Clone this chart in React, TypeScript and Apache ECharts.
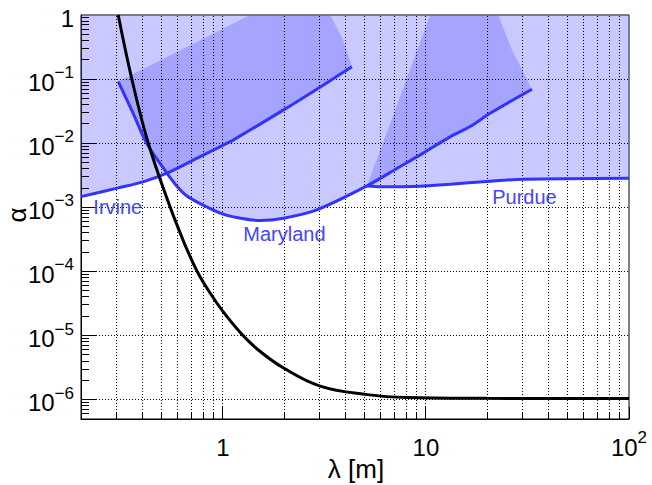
import React, { useEffect, useRef } from 'react';
import * as echarts from 'echarts';

const FONT = '"Liberation Sans", Arial, Helvetica, sans-serif';
const X_MIN = 0.2, X_MAX = 100, Y_MIN = 5e-7, Y_MAX = 1;

// tick label exponents and texts
const xLabelExps = [0, 1, 2];
const xLabelTexts = ['{b|1}', '{b|10}', '{b|10}{s|2}'];
const yLabelExps = [0, -1, -2, -3, -4, -5, -6];
const yLabelTexts = ['{b|1}', '{b|10}{s|−1}', '{b|10}{s|−2}', '{b|10}{s|−3}', '{b|10}{s|−4}', '{b|10}{s|−5}', '{b|10}{s|−6}'];

// black curve (sensitivity)
const blackX = [0.305, 0.356, 0.429, 0.55, 0.61, 0.652, 0.747, 0.86, 1.0, 1.217, 1.5, 1.98, 3.01, 5.14, 8.09, 20, 100];
const blackY = [1, 0.1, 0.01, 1e-3, 4.3e-4, 2.56e-4, 1e-4, 4.74e-5, 2.38e-5, 1.12e-5, 5.9e-6, 3.15e-6, 1.63e-6, 1.2e-6, 1.08e-6, 1.05e-6, 1.04e-6];

// Irvine
const irvineX = [0.2, 0.305, 0.4, 0.53, 0.773, 0.97, 1.128, 1.99, 3.13, 4.32];
const irvineY = [1.47e-3, 2.01e-3, 2.47e-3, 3.41e-3, 6.19e-3, 8.87e-3, 1.13e-2, 3.31e-2, 8.11e-2, 0.156];
const irvineCapX = [3.91, 3.38, 0.2];
const irvineCapY = [0.408, 1, 1];

// Maryland
const marylandX = [0.305, 0.36, 0.422, 0.53, 0.589, 0.665, 0.773, 0.97, 1.128, 1.527, 1.99, 2.9, 5.12, 7.47, 9.37, 13.2, 16.5, 20.7, 33.3];
const marylandY = [0.0914, 0.03, 0.0099, 3.41e-3, 2.2e-3, 1.5e-3, 1.14e-3, 8.1e-4, 7.1e-4, 6.22e-4, 6.78e-4, 9.14e-4, 2.16e-3, 4.33e-3, 6.58e-3, 1.27e-2, 1.82e-2, 2.94e-2, 0.0695];
const marylandCapX = [26.5, 22.7, 1.363];
const marylandCapY = [0.285, 1, 1];

// Purdue
const purdueX = [5.12, 6.0, 9.37, 13.2, 19.9, 30.3, 100];
const purdueY = [2.16e-3, 2.1e-3, 2.14e-3, 2.3e-3, 2.53e-3, 2.75e-3, 2.85e-3];
const purdueCapX = [100, 10.5];
const purdueCapY = [1, 1];

// text labels
const labelText = ['Irvine', 'Maryland', 'Purdue'];
const labelX = [0.23, 1.26, 21.2];
const labelY = [1.0e-3, 3.87e-4, 1.46e-3];

const BLUE = '#3333ff';
const FILL = 'rgba(90,90,255,0.33)';

const xTicks: number[] = [];
for (const d of [0.1, 1, 10]) for (let k = 1; k <= 9; k++) { const v = +(k * d).toPrecision(3); if (v > X_MIN && v <= X_MAX) xTicks.push(v); }
xTicks.push(100);
const yTicks: number[] = [];
for (let e = -7; e <= -1; e++) for (let k = 1; k <= 9; k++) { const v = +(k * Math.pow(10, e)).toPrecision(3); if (v > Y_MIN * 1.001 && v < Y_MAX) yTicks.push(v); }

const isDecade = (v: number) => Math.abs(Math.log10(v) - Math.round(Math.log10(v))) < 1e-6;
const snap = (p: number) => Math.round(p - 0.5) + 0.5;

const zip = (xs: number[], ys: number[]) => xs.map((x, i) => [x, ys[i]]);

function polySeries(name: string, pts: number[][]) {
  return {
    type: 'custom', name, coordinateSystem: 'cartesian2d', silent: true, z: 1,
    data: [[X_MIN, Y_MAX]],
    renderItem: (_p: any, api: any) => ({
      type: 'polygon',
      shape: { points: pts.map((p) => api.coord(p)) },
      style: { fill: FILL, stroke: 'none' },
    }),
  };
}

export default function App() {
  const ref = useRef<HTMLDivElement>(null);
  useEffect(() => {
    const chart = echarts.init(ref.current!, undefined, { renderer: 'svg' });
    const irvinePoly = [...zip(irvineX, irvineY), ...zip(irvineCapX, irvineCapY)];
    const marylandPoly = [...zip(marylandX, marylandY), ...zip(marylandCapX, marylandCapY)];
    const purduePoly = [...zip(purdueX, purdueY), ...zip(purdueCapX, purdueCapY)];

    const xFmt = (v: number) => {
      if (!isDecade(v)) return '';
      const i = xLabelExps.indexOf(Math.round(Math.log10(v)));
      return i >= 0 ? xLabelTexts[i] : '';
    };
    const yFmt = (v: number) => {
      if (!isDecade(v)) return '';
      const i = yLabelExps.indexOf(Math.round(Math.log10(v)));
      return i >= 0 ? yLabelTexts[i] : '';
    };
    const rich = {
      b: { fontSize: 24, fontFamily: FONT, color: '#000', padding: [6, 0, 0, 0], verticalAlign: 'bottom' },
      s: { fontSize: 17, fontFamily: FONT, color: '#000', verticalAlign: 'top' },
    };

    const option: any = {
      animation: false,
      grid: { left: 81, right: 23, top: 15, bottom: 66, show: true, borderColor: '#000', borderWidth: 1 },
      xAxis: {
        type: 'log', logBase: 10, min: X_MIN, max: X_MAX,
        axisLine: { show: true, onZero: false, lineStyle: { color: '#000', width: 1 } },
        axisTick: { show: false }, splitLine: { show: false },
        axisLabel: { margin: 10, formatter: xFmt, rich, showMinLabel: false },
      },
      yAxis: {
        type: 'log', logBase: 10, min: Y_MIN, max: Y_MAX,
        axisLine: { show: true, onZero: false, lineStyle: { color: '#000', width: 1 } },
        axisTick: { show: false }, splitLine: { show: false },
        axisLabel: { margin: 7, formatter: yFmt, rich, showMinLabel: false },
      },
      graphic: [
        { type: 'text', x: 17, y: 215, rotation: Math.PI / 2, style: { text: 'α', font: `26px ${FONT}`, fill: '#000', align: 'center', verticalAlign: 'middle' } },
        { type: 'text', x: 356, y: 469, style: { text: 'λ [m]', font: `26px ${FONT}`, fill: '#000', align: 'center', verticalAlign: 'middle' } },
      ],
      series: [
        polySeries('irvineRegion', irvinePoly),
        polySeries('marylandRegion', marylandPoly),
        polySeries('purdueRegion', purduePoly),
        {
          type: 'custom', name: 'vgrid', silent: true, z: 2,
          data: xTicks.filter((v) => v < X_MAX).map((v) => [v, Y_MIN]),
          renderItem: (_p: any, api: any) => {
            const a = api.coord([api.value(0), Y_MIN]);
            const b = api.coord([api.value(0), Y_MAX]);
            const x = snap(a[0]);
            return { type: 'line', shape: { x1: x, y1: a[1], x2: x, y2: b[1] }, style: { stroke: '#000', lineWidth: 1, lineDash: [1, 2] } };
          },
        },
        {
          type: 'custom', name: 'hgrid', silent: true, z: 2,
          data: yTicks.filter((v) => isDecade(v)).map((v) => [X_MIN, v]),
          renderItem: (_p: any, api: any) => {
            const a = api.coord([X_MIN, api.value(1)]);
            const b = api.coord([X_MAX, api.value(1)]);
            const y = snap(a[1]);
            return { type: 'line', shape: { x1: a[0], y1: y, x2: b[0], y2: y }, style: { stroke: '#000', lineWidth: 1, lineDash: [1, 2] } };
          },
        },
        {
          type: 'custom', name: 'xticks', silent: true, z: 5,
          data: xTicks.map((v) => [v, Y_MIN]),
          renderItem: (_p: any, api: any) => {
            const v = api.value(0);
            const a = api.coord([v, Y_MIN]);
            const len = isDecade(v) ? 12 : 6;
            const x = snap(a[0]);
            return { type: 'line', shape: { x1: x, y1: a[1], x2: x, y2: a[1] - len }, style: { stroke: '#000', lineWidth: 1 } };
          },
        },
        {
          type: 'custom', name: 'yticks', silent: true, z: 5,
          data: yTicks.map((v) => [X_MIN, v]),
          renderItem: (_p: any, api: any) => {
            const v = api.value(1);
            const a = api.coord([X_MIN, v]);
            const len = isDecade(v) ? 15 : 8;
            const y = snap(a[1]);
            return { type: 'line', shape: { x1: a[0], y1: y, x2: a[0] + len, y2: y }, style: { stroke: '#000', lineWidth: 1 } };
          },
        },
        { type: 'line', name: 'Irvine', data: zip(irvineX, irvineY), smooth: 0.3, showSymbol: false, lineStyle: { color: BLUE, width: 3 }, z: 3, silent: true },
        { type: 'line', name: 'Maryland', data: zip(marylandX, marylandY), smooth: 0.3, showSymbol: false, lineStyle: { color: BLUE, width: 3 }, z: 3, silent: true },
        { type: 'line', name: 'Purdue', data: zip(purdueX, purdueY), smooth: 0.3, showSymbol: false, lineStyle: { color: BLUE, width: 3 }, z: 3, silent: true },
        { type: 'line', name: 'Sensitivity', data: zip(blackX, blackY), smooth: 0.4, showSymbol: false, lineStyle: { color: '#000', width: 3 }, z: 4, silent: true },
        {
          type: 'custom', name: 'labels', silent: true, z: 6,
          data: zip(labelX, labelY),
          renderItem: (p: any, api: any) => {
            const c = api.coord([api.value(0), api.value(1)]);
            return { type: 'text', x: c[0], y: c[1], style: { text: labelText[p.dataIndex], font: `20px ${FONT}`, fill: '#4444ff', align: 'left', verticalAlign: 'middle' } };
          },
        },
      ],
    };
    chart.setOption(option);
    return () => chart.dispose();
  }, []);
  return <div ref={ref} style={{ position: 'absolute', left: 0, top: 0, width: 652, height: 485 }} />;
}
